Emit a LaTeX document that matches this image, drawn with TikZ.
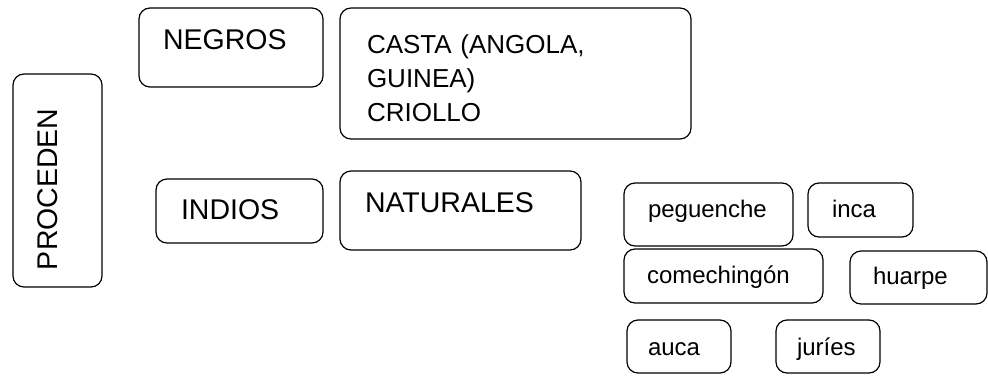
\documentclass[tikz,border=0pt]{standalone}
\usepackage{fontspec}
\setmainfont{Liberation Sans}
\usepackage{tikz}

\begin{document}
\begin{tikzpicture}[
        x=1pt, y=-1pt,
        box/.style={rectangle, rounded corners=11pt, draw, line width=1.2pt, anchor=north west, inner ysep=0pt, outer sep=0pt, align=left},
        big/.style={font=\fontsize{28.5}{34}\selectfont},
        mid/.style={font=\fontsize{26}{34}\selectfont},
        small/.style={font=\fontsize{24}{29}\selectfont}
    ]
        \useasboundingbox (0,0) rectangle (988,375);

        \node[box, big, rotate=90, inner xsep=17pt, text width=179pt, text height=44pt, text depth=45pt] (proceden) at (13,287) {PROCEDEN};

        \node[box, big, inner xsep=24pt, text width=136pt, text height=41pt, text depth=38pt] (negros) at (139,8) {NEGROS};
        \node[box, mid, inner xsep=27pt, text width=297pt, text height=45pt, text depth=86pt] (casta) at (340,8) {CASTA (ANGOLA,\\GUINEA)\\CRIOLLO};

        \node[box, big, inner xsep=25pt, text width=117pt, text height=40pt, text depth=24pt] (indios) at (156,179) {INDIOS};
        \node[box, big, inner xsep=25pt, text width=191pt, text height=41pt, text depth=38pt] (naturales) at (340,171) {NATURALES};

        % pueblos
        \node[box, small, inner xsep=24pt, text width=121pt, text height=34pt, text depth=29pt] (peguenche) at (624,183) {peguenche};
        \node[box, small, inner xsep=24pt, text width=57pt, text height=34pt, text depth=20pt] (inca) at (808,183) {inca};
        \node[box, small, inner xsep=23pt, text width=153pt, text height=34pt, text depth=20pt] (comechingon) at (624,249) {comechingón};
        \node[box, small, inner xsep=23pt, text width=91pt, text height=33pt, text depth=20pt] (huarpe) at (850,251) {huarpe};
        \node[box, small, inner xsep=21pt, text width=62pt, text height=35pt, text depth=18pt] (auca) at (627,320) {auca};
        \node[box, small, inner xsep=21pt, text width=62pt, text height=35pt, text depth=18pt] (juries) at (776,320) {juríes};
    \end{tikzpicture}
\end{document}
